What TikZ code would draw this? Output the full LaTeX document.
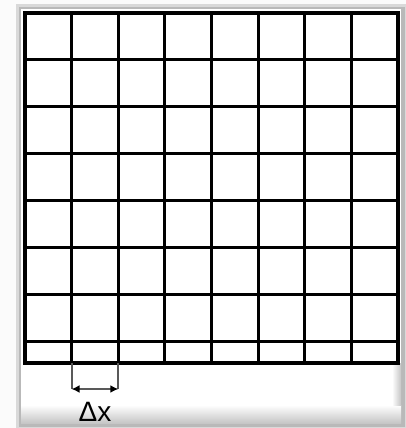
\documentclass[tikz,border=0pt]{standalone}
\usepackage{fontspec}
\setmainfont{Liberation Sans}
\usetikzlibrary{arrows.meta}
\tikzset{
  gridline/.style={line width=2.3pt, black},
  dimline/.style={line width=1.5pt, gray!70!black},
  dimarrow/.style={line width=1.5pt, gray!70!black, {Latex[length=6pt,width=6pt,black]}-{Latex[length=6pt,width=6pt,black]}},
  lbl/.style={font=\fontsize{21}{23}\selectfont, inner sep=0pt, anchor=base}
}
\begin{document}
\begin{tikzpicture}[x=0.75pt,y=-0.75pt]
\useasboundingbox (0,0) rectangle (406,428);
\fill[gray!3] (0,0) rectangle (406,428);
% panel frame
\fill[gray!30] (16,4) rectangle (406,428);
\fill[gray!55] (19,7) rectangle (405,427);
\fill[white] (21,9) rectangle (401,423);
\shade[top color=white, bottom color=gray!45] (21,405) rectangle (401,423);
\shade[left color=white, right color=gray!45] (392,363) rectangle (401,405);
% grid
\foreach \i in {1,...,7} {
  \draw[gridline] ({25+46.625*\i},13) -- ({25+46.625*\i},363);
  \draw[gridline] (25,{13+46.9*\i}) -- (398,{13+46.9*\i});
}
\draw[gridline] (25,13) rectangle (398,363);
% dimension
\coordinate (a1) at (71.6,363);
\coordinate (a2) at (118.3,363);
\coordinate (b1) at (71.6,389);
\coordinate (b2) at (118.3,389);
\draw[dimline] (a1) -- (b1);
\draw[dimline] (a2) -- (b2);
\draw[dimarrow] (b1) -- (b2);
\node[lbl] (dx) at (95,421) {Δx};
\end{tikzpicture}
\end{document}
